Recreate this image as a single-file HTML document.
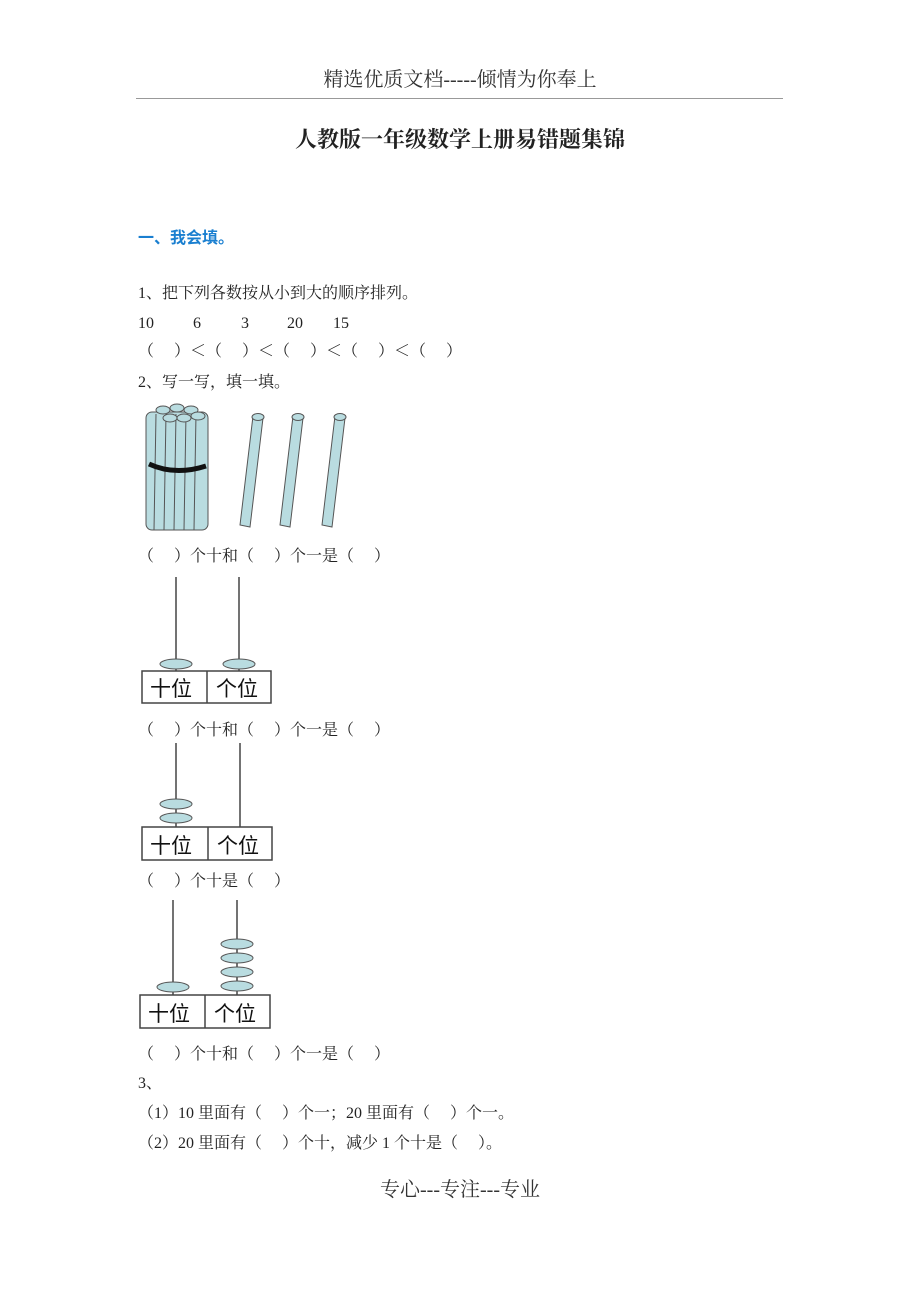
<!DOCTYPE html><html><head><meta charset="utf-8"><style>
body{margin:0;width:920px;height:1302px;background:#fff;position:relative;font-family:"Liberation Serif","Noto Serif CJK SC",serif;color:#222;overflow:hidden}
.t{position:absolute;white-space:pre;font-size:16px;line-height:20px}
</style></head><body>
<div class="t" style="left:0;width:920px;text-align:center;top:68px;font-size:20px;line-height:24px;color:#333">精选优质文档-----倾情为你奉上</div>
<div style="position:absolute;left:136px;top:98px;width:647px;height:1px;background:#999"></div>
<div class="t" style="left:0;width:920px;text-align:center;top:126px;font-size:22px;line-height:26px;font-weight:bold;font-family:'Noto Serif CJK SC',serif">人教版一年级数学上册易错题集锦</div>
<div class="t" style="left:138px;top:226px;color:#1a7fd0;font-weight:bold;font-family:'Noto Sans CJK SC',sans-serif">一、我会填。</div>
<div class="t" style="left:138px;top:284px">1、把下列各数按从小到大的顺序排列。</div>
<div class="t" style="left:138px;top:314px">10</div>
<div class="t" style="left:193px;top:314px">6</div>
<div class="t" style="left:241px;top:314px">3</div>
<div class="t" style="left:287px;top:314px">20</div>
<div class="t" style="left:333px;top:314px">15</div>
<div class="t" style="left:138px;top:342px">（　 ）＜（　 ）＜（　 ）＜（　 ）＜（　 ）</div>
<div class="t" style="left:138px;top:373px">2、写一写，填一填。</div>
<svg style="position:absolute;left:0;top:0" width="920" height="1302">
<g stroke="#555" stroke-width="1" fill="#b9dce0">
<rect x="146" y="412" width="62" height="118" rx="6"/>
<line x1="156" y1="414" x2="154" y2="530"/><line x1="166" y1="414" x2="164" y2="530"/><line x1="176" y1="414" x2="174" y2="530"/><line x1="186" y1="414" x2="184" y2="530"/><line x1="196" y1="414" x2="194" y2="530"/>
<ellipse cx="163" cy="410" rx="7" ry="4"/><ellipse cx="177" cy="408" rx="7" ry="4"/><ellipse cx="191" cy="410" rx="7" ry="4"/><ellipse cx="170" cy="418" rx="7" ry="4"/><ellipse cx="184" cy="418" rx="7" ry="4"/><ellipse cx="198" cy="416" rx="7" ry="4"/>
<path d="M240 525 L253 416 L263 418 L250 527 Z"/><ellipse cx="258" cy="417" rx="6" ry="3.5"/>
<path d="M280 525 L293 416 L303 418 L290 527 Z"/><ellipse cx="298" cy="417" rx="6" ry="3.5"/>
<path d="M322 525 L335 416 L345 418 L332 527 Z"/><ellipse cx="340" cy="417" rx="6" ry="3.5"/>
</g>
<path d="M149 464 Q175 476 206 466" stroke="#111" stroke-width="5" fill="none"/>
<g stroke="#444" stroke-width="1.5" fill="none">
<line x1="176" y1="577" x2="176" y2="671"/><line x1="239" y1="577" x2="239" y2="671"/>
<rect x="142" y="671" width="129" height="32"/><line x1="207" y1="671" x2="207" y2="703"/>
<line x1="176" y1="743" x2="176" y2="827"/><line x1="240" y1="743" x2="240" y2="827"/>
<rect x="142" y="827" width="130" height="33"/><line x1="208" y1="827" x2="208" y2="860"/>
<line x1="173" y1="900" x2="173" y2="995"/><line x1="237" y1="900" x2="237" y2="995"/>
<rect x="140" y="995" width="130" height="33"/><line x1="205" y1="995" x2="205" y2="1028"/>
</g>
<g fill="#b9dce0" stroke="#555">
<ellipse cx="176" cy="664" rx="16" ry="5"/><ellipse cx="239" cy="664" rx="16" ry="5"/>
<ellipse cx="176" cy="804" rx="16" ry="5"/><ellipse cx="176" cy="818" rx="16" ry="5"/>
<ellipse cx="173" cy="987" rx="16" ry="5"/>
<ellipse cx="237" cy="944" rx="16" ry="5"/><ellipse cx="237" cy="958" rx="16" ry="5"/><ellipse cx="237" cy="972" rx="16" ry="5"/><ellipse cx="237" cy="986" rx="16" ry="5"/>
</g>
<g font-family="Noto Sans CJK SC,sans-serif" font-size="21" fill="#111">
<text x="150" y="696">十位</text><text x="216" y="696">个位</text>
<text x="150" y="853">十位</text><text x="217" y="853">个位</text>
<text x="148" y="1021">十位</text><text x="214" y="1021">个位</text>
</g>
</svg>
<div class="t" style="left:138px;top:547px">（　 ）个十和（　 ）个一是（　 ）</div>
<div class="t" style="left:138px;top:721px">（　 ）个十和（　 ）个一是（　 ）</div>
<div class="t" style="left:138px;top:872px">（　 ）个十是（　 ）</div>
<div class="t" style="left:138px;top:1045px">（　 ）个十和（　 ）个一是（　 ）</div>
<div class="t" style="left:138px;top:1074px">3、</div>
<div class="t" style="left:138px;top:1104px">（1）10 里面有（　 ）个一；20 里面有（　 ）个一。</div>
<div class="t" style="left:138px;top:1134px">（2）20 里面有（　 ）个十，减少 1 个十是（　 ）。</div>
<div class="t" style="left:0;width:920px;text-align:center;top:1178px;font-size:20px;line-height:24px;color:#333">专心---专注---专业</div>
</body></html>
